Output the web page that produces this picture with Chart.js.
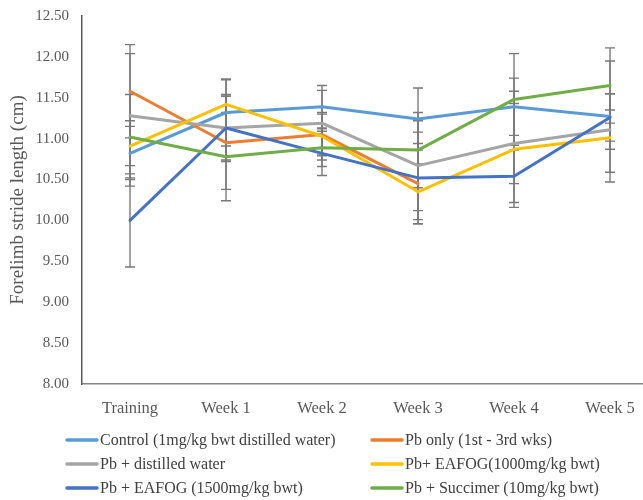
<!DOCTYPE html>
<html>
<head>
<meta charset="utf-8">
<script src="https://cdn.jsdelivr.net/npm/chart.js@4/dist/chart.umd.min.js"></script>
<style>
  html, body { margin: 0; padding: 0; background: #ffffff; overflow: hidden; }
  #wrap { position: relative; width: 658px; height: 500px; }
</style>
</head>
<body>
<div id="wrap"><canvas id="c" width="658" height="500"></canvas></div>
<script>
// Forelimb stride length (cm), mean ± error per group and week
const weeks = ['Training', 'Week 1', 'Week 2', 'Week 3', 'Week 4', 'Week 5'];

const control      = [10.82, 11.32, 11.39, 11.24, 11.39, 11.27];
const pbOnly       = [11.58, 10.95, 11.05, 10.45, null, null];
const pbWater      = [11.28, 11.13, 11.19, 10.67, 10.94, 11.11];
const eafog1000    = [10.91, 11.42, 11.03, 10.35, 10.87, 11.01];
const eafog1500    = [10.00, 11.13, 10.82, 10.52, 10.54, 11.26];
const succimer     = [11.02, 10.78, 10.89, 10.86, 11.48, 11.65];

const controlErr   = [0.40, 0.41, 0.26, 0.38, 0.35, 0.68];
const pbOnlyErr    = [0.57, 0.57, 0.25, 0.49, null, null];
const pbWaterErr   = [0.76, 0.41, 0.40, 0.55, 0.49, 0.24];
const eafog1000Err = [0.24, 0.30, 0.29, 0.34, 0.71, 0.54];
const eafog1500Err = [0.57, 0.39, 0.27, 0.56, 0.32, 0.29];
const succimerErr  = [0.52, 0.54, 0.23, 0.46, 0.56, 0.46];

const yTicks = [8.00, 8.50, 9.00, 9.50, 10.00, 10.50, 11.00, 11.50, 12.00, 12.50];

const seriesNames = [
  'Control (1mg/kg bwt distilled water)',
  'Pb only (1st - 3rd wks)',
  'Pb + distilled water',
  'Pb+ EAFOG(1000mg/kg bwt)',
  'Pb + EAFOG (1500mg/kg bwt)',
  'Pb + Succimer (10mg/kg bwt)'
];
const seriesValues = [control, pbOnly, pbWater, eafog1000, eafog1500, succimer];
const seriesErrors = [controlErr, pbOnlyErr, pbWaterErr, eafog1000Err, eafog1500Err, succimerErr];
const seriesColors = ['#5B9BD5', '#ED7D31', '#A5A5A5', '#FFC000', '#4472C4', '#70AD47'];

const SERIF = '"Liberation Serif", "Times New Roman", serif';

// Vertical error bars with caps, drawn underneath the lines
const errorBars = {
  id: 'errorBars',
  beforeDatasetsDraw(chart) {
    const { ctx, scales: { x, y } } = chart;
    ctx.save();
    ctx.strokeStyle = '#7a7a7a';
    ctx.lineWidth = 1.4;
    chart.data.datasets.forEach(ds => {
      ds.data.forEach((v, j) => {
        const e = ds.errors[j];
        if (v == null || e == null) return;
        const px = x.getPixelForValue(j);
        const top = y.getPixelForValue(v + e);
        const bot = y.getPixelForValue(v - e);
        ctx.beginPath();
        ctx.moveTo(px, top); ctx.lineTo(px, bot);
        ctx.moveTo(px - 5, top); ctx.lineTo(px + 5, top);
        ctx.moveTo(px - 5, bot); ctx.lineTo(px + 5, bot);
        ctx.stroke();
      });
    });
    ctx.restore();
  }
};

// Two-column legend and the rotated y-axis title
const decorations = {
  id: 'decorations',
  afterDraw(chart) {
    const { ctx, chartArea } = chart;
    ctx.save();
    ctx.font = '16px ' + SERIF;
    ctx.textBaseline = 'middle';
    ctx.textAlign = 'left';
    const colX = [66, 371];
    const rowY = [440, 464, 488];
    chart.data.datasets.forEach((ds, i) => {
      const cx = colX[i % 2];
      const cy = rowY[Math.floor(i / 2)];
      ctx.strokeStyle = ds.borderColor;
      ctx.lineWidth = 3.5;
      ctx.lineCap = 'round';
      ctx.beginPath();
      ctx.moveTo(cx + 1, cy); ctx.lineTo(cx + 31, cy);
      ctx.stroke();
      ctx.fillStyle = '#404040';
      ctx.fillText(ds.label, cx + 34, cy + 1);
    });

    ctx.translate(18, (chartArea.top + chartArea.bottom) / 2);
    ctx.rotate(-Math.PI / 2);
    ctx.textAlign = 'center';
    ctx.font = '19px ' + SERIF;
    ctx.fillStyle = '#595959';
    ctx.fillText('Forelimb stride length (cm)', 0, 0);
    ctx.restore();
  }
};

new Chart(document.getElementById('c'), {
  type: 'line',
  data: {
    labels: weeks,
    datasets: seriesNames.map((name, i) => ({
      label: name,
      data: seriesValues[i],
      errors: seriesErrors[i],
      borderColor: seriesColors[i],
      backgroundColor: seriesColors[i],
      borderWidth: 3,
      pointRadius: 0,
      tension: 0,
      borderCapStyle: 'round',
      borderJoinStyle: 'round',
      spanGaps: false,
      order: seriesNames.length - i
    }))
  },
  options: {
    responsive: false,
    devicePixelRatio: 1,
    animation: false,
    layout: { padding: { top: 16, right: 0, bottom: 0, left: 0 } },
    plugins: {
      legend: { display: false },
      tooltip: { enabled: false }
    },
    scales: {
      x: {
        offset: true,
        grid: { display: false, drawTicks: false },
        border: { display: true, color: '#868686', width: 1.5 },
        ticks: {
          padding: 15,
          color: '#595959',
          font: { family: SERIF, size: 16.5 }
        },
        afterFit(scale) { scale.height = 116; }
      },
      y: {
        min: 8,
        max: 12.5,
        afterBuildTicks(scale) { scale.ticks = yTicks.map(v => ({ value: v })); },
        grid: { display: false, drawTicks: false },
        border: { display: true, color: '#595959', width: 1.5 },
        ticks: {
          padding: 13,
          color: '#595959',
          font: { family: SERIF, size: 15 },
          callback: v => Number(v).toFixed(2)
        },
        afterFit(scale) {
          scale.width = 82;
          scale.paddingTop = 0;
          scale.paddingBottom = 0;
        }
      }
    }
  },
  plugins: [errorBars, decorations]
});
</script>
</body>
</html>
